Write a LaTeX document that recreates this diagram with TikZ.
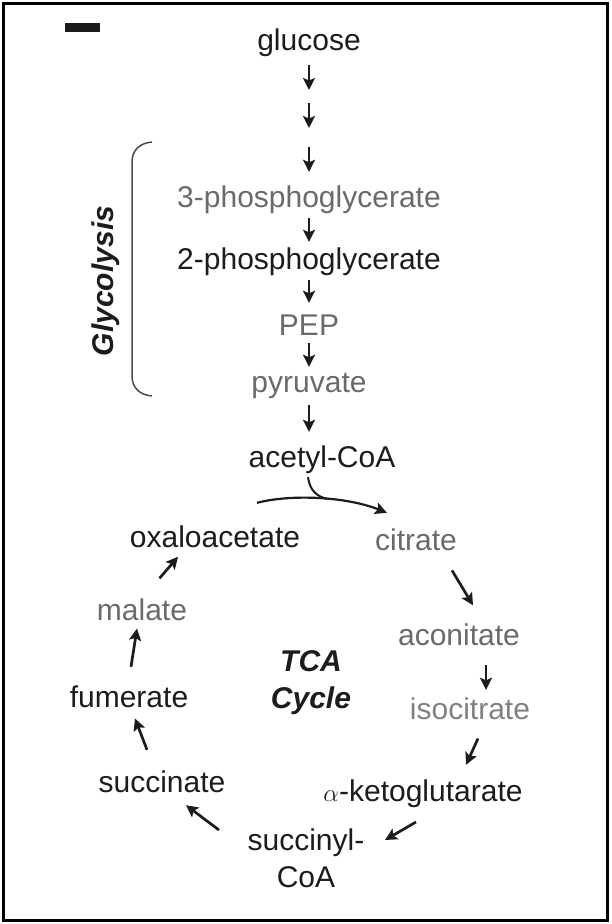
\documentclass[tikz,border=0pt]{standalone}
\usepackage{fontspec}
\setmainfont{Liberation Sans}
\usetikzlibrary{arrows.meta,calc}
\definecolor{ink}{HTML}{1C1C1C}
\definecolor{mute}{HTML}{6A6A6A}
\definecolor{pale}{HTML}{808080}
\definecolor{stem}{HTML}{4A4A4A}
\tikzset{
  met/.style={font=\fontsize{30}{36}\selectfont, inner sep=0pt, text height=21.5pt, text depth=6.3pt, anchor=base},
  met2/.style={font=\fontsize{30}{37}\selectfont, inner sep=0pt, align=center, anchor=north},
  flow/.style={line width=2.7pt, draw=ink, -{Stealth[length=12pt,width=12pt,inset=2.5pt]}},
}

\begin{document}
\begin{tikzpicture}[x=1pt,y=1pt,yscale=-1,xscale=1]
\useasboundingbox (0,0) rectangle (611,924);

%Shape: Rectangle
\draw [line width=2.5pt] (3.5,3.5) rectangle (607.5,920.5);
%Shape: Rectangle
\fill [ink] (65,23) rectangle (100,32);

%Text: glycolysis chain
\node [met,text=ink] (glc) at (309,50) {glucose};
\coordinate (gA) at (309,96.5);
\coordinate (gB) at (309,137.5);
\node [met,text=mute] (pg3) at (309,207) {3-phosphoglycerate};
\node [met,text=ink] (pg2) at (309,269) {2-phosphoglycerate};
\node [met,text=mute] (pep) at (309,335) {PEP};
\node [met,text=mute] (pyr) at (309,392) {pyruvate};
\node [met,text=ink] (acoa) at (322,467) {acetyl-CoA};

%Straight Lines
\draw [flow, shorten <=8.7pt, shorten >=6.5pt] (glc.south) -- (gA);
\draw [flow, shorten <=6.5pt, shorten >=9.5pt] (gA) -- (gB);
\draw [flow, shorten <=9.5pt, shorten >=13.5pt] (gB) -- (pg3.north);
\draw [flow, shorten <=4.7pt, shorten >=5.5pt] (pg3.south) -- (pg2.north);
\draw [flow, shorten <=4.7pt, shorten >=10.5pt] (pg2.south) -- (pep.north);
\draw [flow, shorten <=1.7pt, shorten >=3.5pt] (pep.south) -- (pyr.north);
\draw [flow, shorten <=6.7pt, shorten >=13.5pt] (pyr.south) -- (pyr.south |- acoa.north);

%Shape: Brace
\draw [line width=1.5pt, draw=stem] (152,142) .. controls (140,143) and (132,150) .. (132,162) -- (132,376) .. controls (132,388) and (140,395) .. (152,396);
\node [font=\fontsize{30}{36}\selectfont\bfseries\itshape, text=ink, inner sep=0pt, rotate=90, anchor=base] (gly) at (113,281) {Glycolysis};

%Text: TCA cycle
\node [met,text=ink] (oaa) at (215,547) {oxaloacetate};
\node [met,text=mute] (cit) at (416,550) {citrate};
\node [met,text=mute] (aco) at (459,645) {aconitate};
\node [met,text=pale] (iso) at (470,719) {isocitrate};
\node [met,text=ink] (akg) at (423,801) {$\alpha$-ketoglutarate};
\node [met2,text=ink] (scoa) at (306,828.5) {succinyl-\\CoA};
\node [met,text=ink] (suc) at (162,792) {succinate};
\node [met,text=ink] (fum) at (129,707) {fumerate};
\node [met,text=mute] (mal) at (142,620) {malate};
\node [met2,text=ink,font=\fontsize{30}{37}\selectfont\bfseries\itshape] (tca) at (311,650) {TCA\\Cycle};

%Curve Lines
\draw [flow, line width=2.2pt] ($(oaa.north)+(42,-22.5)$) .. controls +(35,-9) and +(-40,-16) .. coordinate[pos=0.55] (join) ($(cit.north west)+(12,-15.5)$);
\draw [line width=2pt, draw=ink] ($(acoa.south)+(-14,3.7)$) .. controls +(2,13) and +(-11,-3) .. (join);

%Straight Lines
\draw [flow] ($(cit.south east)+(-5,14)$) -- ($(aco.north)+(14,-18)$);
\draw [flow] ($(aco.south)+(27,13)$) -- ($(iso.north)+(16,-7.5)$);
\draw [flow] ($(iso.south)+(8,13)$) -- ($(akg.north)+(43,-14.5)$);
\draw [flow] ($(akg.south)+(-7,14.5)$) -- ($(scoa.north east)+(20.5,11.5)$);
\draw [flow] ($(scoa.north west)+(-28.5,1.5)$) -- ($(suc.south)+(24,6.7)$);
\draw [flow] ($(suc.north)+(-15,-20.5)$) -- ($(fum.south)+(6,5)$);
\draw [flow] ($(fum.north)+(2,-18.5)$) -- ($(mal.south)+(-5,2)$);
\draw [flow] ($(mal.north)+(17.5,-20)$) -- ($(oaa.south)+(-37,3.3)$);

\end{tikzpicture}
\end{document}
